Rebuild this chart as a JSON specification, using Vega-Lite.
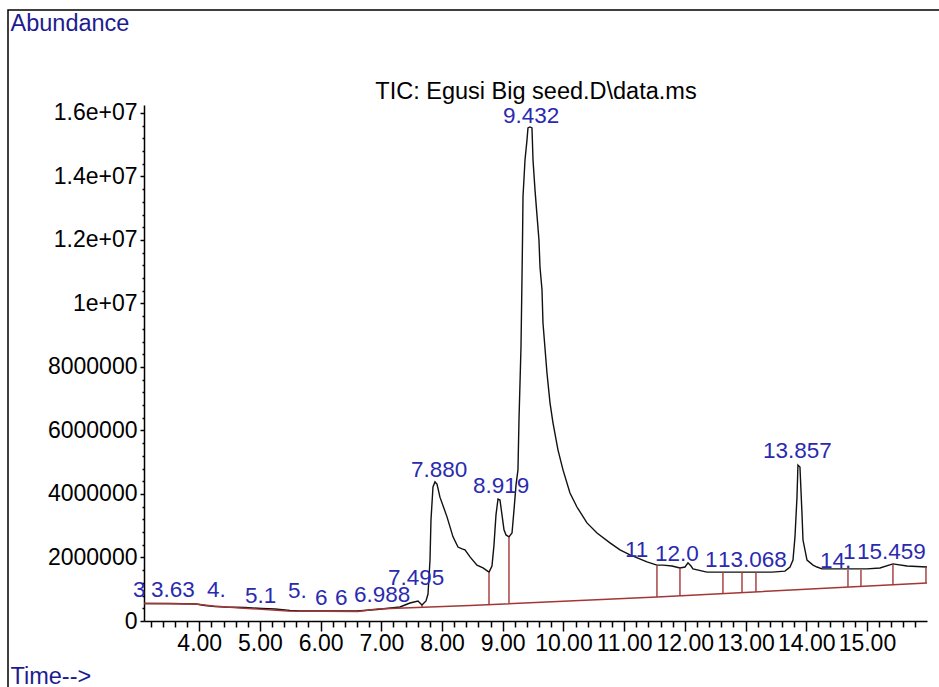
{
  "$schema": "https://vega.github.io/schema/vega-lite/v6.json",
  "autosize": "none",
  "padding": {"left": 8, "top": 10, "right": 0, "bottom": 0},
  "width": 940,
  "height": 700,
  "background": "white",
  "config": {
    "view": {"stroke": "#000000", "strokeWidth": 1.5},
    "font": "Liberation Sans"
  },
  "title": {
    "text": "TIC: Egusi Big seed.D\\data.ms",
    "frame": "group",
    "anchor": "middle",
    "dx": 58,
    "offset": -112,
    "baseline": "alphabetic",
    "font": "Liberation Sans",
    "fontSize": 23.5,
    "fontWeight": "normal",
    "color": "#000000"
  },
  "datasets": {
    "signal": [
      {"t":3.09,"v":551000},{"t":3.518,"v":551000},{"t":3.947,"v":535000},{"t":4.095,"v":488000},{"t":4.26,"v":457000},{"t":4.424,"v":441000},{"t":4.754,"v":425000},{"t":5.034,"v":394000},{"t":5.248,"v":378000},{"t":5.495,"v":331000},{"t":5.66,"v":315000},{"t":6.319,"v":315000},{"t":6.599,"v":315000},{"t":6.928,"v":362000},{"t":7.307,"v":441000},{"t":7.472,"v":567000},{"t":7.604,"v":630000},{"t":7.67,"v":504000},{"t":7.736,"v":630000},{"t":7.769,"v":850000},{"t":7.802,"v":1920000},{"t":7.818,"v":3180000},{"t":7.851,"v":4220000},{"t":7.884,"v":4380000},{"t":7.917,"v":4310000},{"t":7.966,"v":3900000},{"t":8.082,"v":3280000},{"t":8.181,"v":2650000},{"t":8.263,"v":2330000},{"t":8.329,"v":2270000},{"t":8.378,"v":2240000},{"t":8.461,"v":2020000},{"t":8.576,"v":1760000},{"t":8.675,"v":1670000},{"t":8.774,"v":1540000},{"t":8.823,"v":1730000},{"t":8.856,"v":2390000},{"t":8.889,"v":3340000},{"t":8.922,"v":3840000},{"t":8.955,"v":3810000},{"t":8.988,"v":3340000},{"t":9.021,"v":2870000},{"t":9.054,"v":2710000},{"t":9.103,"v":2650000},{"t":9.153,"v":2770000},{"t":9.186,"v":3500000},{"t":9.219,"v":4280000},{"t":9.251,"v":4760000},{"t":9.268,"v":6330000},{"t":9.301,"v":8630000},{"t":9.317,"v":10740000},{"t":9.326,"v":12000000},{"t":9.334,"v":13350000},{"t":9.367,"v":14520000},{"t":9.4,"v":15150000},{"t":9.416,"v":15530000},{"t":9.449,"v":15560000},{"t":9.482,"v":15530000},{"t":9.499,"v":14520000},{"t":9.532,"v":13570000},{"t":9.564,"v":12790000},{"t":9.597,"v":12000000},{"t":9.614,"v":11150000},{"t":9.647,"v":10430000},{"t":9.663,"v":9390000},{"t":9.729,"v":7810000},{"t":9.779,"v":6870000},{"t":9.828,"v":6240000},{"t":9.91,"v":5390000},{"t":9.993,"v":4760000},{"t":10.108,"v":4030000},{"t":10.223,"v":3590000},{"t":10.388,"v":3090000},{"t":10.553,"v":2770000},{"t":10.767,"v":2460000},{"t":10.932,"v":2240000},{"t":11.097,"v":2080000},{"t":11.376,"v":1860000},{"t":11.541,"v":1760000},{"t":11.64,"v":1760000},{"t":11.788,"v":1730000},{"t":11.92,"v":1670000},{"t":12.003,"v":1700000},{"t":12.052,"v":1830000},{"t":12.102,"v":1730000},{"t":12.134,"v":1640000},{"t":12.365,"v":1540000},{"t":13.436,"v":1540000},{"t":13.65,"v":1570000},{"t":13.733,"v":1700000},{"t":13.782,"v":1920000},{"t":13.815,"v":2650000},{"t":13.848,"v":3900000},{"t":13.864,"v":4910000},{"t":13.897,"v":4850000},{"t":13.93,"v":3400000},{"t":13.947,"v":2550000},{"t":14.013,"v":1920000},{"t":14.112,"v":1760000},{"t":14.178,"v":1700000},{"t":14.26,"v":1640000},{"t":15.0,"v":1640000},{"t":15.215,"v":1670000},{"t":15.429,"v":1800000},{"t":15.66,"v":1730000},{"t":15.99,"v":1700000}
    ],
    "baseline": [
      {"t":3.09,"v":551000},{"t":3.947,"v":535000},{"t":4.227,"v":472000},{"t":4.672,"v":409000},{"t":5.462,"v":315000},{"t":6.615,"v":299000},{"t":6.928,"v":378000},{"t":8.461,"v":488000},{"t":11.541,"v":756000},{"t":15.99,"v":1197000}
    ],
    "drops": [
      {"t":7.67,"v":430000,"v2":504000},{"t":8.774,"v":515000,"v2":1543000},{"t":9.103,"v":544000,"v2":2646000},{"t":11.541,"v":756000,"v2":1764000},{"t":11.92,"v":793000,"v2":1669000},{"t":12.628,"v":864000,"v2":1543000},{"t":12.942,"v":895000,"v2":1543000},{"t":13.172,"v":917000,"v2":1543000},{"t":14.688,"v":1067000,"v2":1606000},{"t":14.902,"v":1088000,"v2":1606000},{"t":15.429,"v":1140000,"v2":1795000},{"t":15.973,"v":1195000,"v2":1701000}
    ],
    "labels": [
      {"label":"3","t":2.909,"v":756000},
      {"label":"3.63","t":3.205,"v":756000},
      {"label":"4.","t":4.128,"v":756000},
      {"label":"5.1","t":4.754,"v":567000},
      {"label":"5.","t":5.462,"v":724000},
      {"label":"6","t":5.907,"v":504000},
      {"label":"6","t":6.237,"v":504000},
      {"label":"6.988","t":6.55,"v":600000},
      {"label":"7.495","t":7.11,"v":1134000},
      {"label":"7.880","t":7.489,"v":4535000},
      {"label":"8.919","t":8.51,"v":4030000},
      {"label":"9.432","t":9.004,"v":15685000},
      {"label":"11","t":11.014,"v":2016000},
      {"label":"12.0","t":11.508,"v":1890000},
      {"label":"1","t":12.332,"v":1700000},
      {"label":"13.068","t":12.546,"v":1700000},
      {"label":"13.857","t":13.288,"v":5130000},
      {"label":"14.","t":14.227,"v":1670000},
      {"label":"1","t":14.606,"v":1950000},
      {"label":"15.459","t":14.836,"v":1950000}
    ]
  },
  "encoding": {
    "x": {
      "field": "t",
      "type": "quantitative",
      "scale": {"domain": [3.09, 15.99], "range": [136, 919], "nice": false, "zero": false},
      "axis": {
        "orient": "bottom",
        "offset": -89,
        "grid": false,
        "values": [3.2,3.4,3.6,3.8,4,4.2,4.4,4.6,4.8,5,5.2,5.4,5.6,5.8,6,6.2,6.4,6.6,6.8,7,7.2,7.4,7.6,7.8,8,8.2,8.4,8.6,8.8,9,9.2,9.4,9.6,9.8,10,10.2,10.4,10.6,10.8,11,11.2,11.4,11.6,11.8,12,12.2,12.4,12.6,12.8,13,13.2,13.4,13.6,13.8,14,14.2,14.4,14.6,14.8,15,15.2,15.4,15.6,15.8],
        "labelExpr": "datum.value % 1 === 0 ? format(datum.value, '.2f') : ''",
        "tickSize": {"condition": {"test": "datum.value % 1 === 0", "value": 10}, "value": 6},
        "tickColor": "#000000",
        "tickWidth": 1.5,
        "domainColor": "#000000",
        "domainWidth": 1.5,
        "labelColor": "#000000",
        "labelFont": "Liberation Sans",
        "labelFontSize": 23,
        "labelPadding": 1,
        "labelOverlap": false,
        "labelFlush": false,
        "title": "Time-->",
        "titleX": 2,
        "titleY": 62,
        "titleAlign": "left",
        "titleBaseline": "alphabetic",
        "titleColor": "#1c1c90",
        "titleFont": "Liberation Sans",
        "titleFontSize": 23.5,
        "titleFontWeight": "normal"
      }
    },
    "y": {
      "field": "v",
      "type": "quantitative",
      "scale": {"domain": [0, 16250000], "range": [611, 95], "nice": false, "zero": true},
      "axis": {
        "orient": "left",
        "offset": -136,
        "grid": false,
        "values": [0,400000,800000,1200000,1600000,2000000,2400000,2800000,3200000,3600000,4000000,4400000,4800000,5200000,5600000,6000000,6400000,6800000,7200000,7600000,8000000,8400000,8800000,9200000,9600000,10000000,10400000,10800000,11200000,11600000,12000000,12400000,12800000,13200000,13600000,14000000,14400000,14800000,15200000,15600000,16000000],
        "labelExpr": "datum.value % 2000000 !== 0 ? '' : (datum.value >= 10000000 ? (datum.value / 10000000) + 'e+07' : '' + datum.value)",
        "tickSize": {"condition": {"test": "datum.value % 2000000 === 0", "value": 4}, "value": 2},
        "tickColor": "#000000",
        "tickWidth": 1.5,
        "domainColor": "#000000",
        "domainWidth": 1.5,
        "labelColor": "#000000",
        "labelFont": "Liberation Sans",
        "labelFontSize": 23,
        "labelPadding": 3,
        "labelOverlap": false,
        "labelFlush": false,
        "title": "Abundance",
        "titleAngle": 0,
        "titleX": -134,
        "titleY": 20,
        "titleAlign": "left",
        "titleBaseline": "alphabetic",
        "titleColor": "#1c1c90",
        "titleFont": "Liberation Sans",
        "titleFontSize": 23.5,
        "titleFontWeight": "normal"
      }
    }
  },
  "layer": [
    {
      "data": {"name": "signal"},
      "mark": {"type": "line", "color": "#111111", "strokeWidth": 1.4, "interpolate": "linear"}
    },
    {
      "data": {"name": "baseline"},
      "mark": {"type": "line", "color": "#a33636", "strokeWidth": 1.4}
    },
    {
      "data": {"name": "drops"},
      "mark": {"type": "rule", "color": "#a33636", "strokeWidth": 1.4},
      "encoding": {"y2": {"field": "v2"}}
    },
    {
      "data": {"name": "labels"},
      "mark": {"type": "text", "align": "left", "baseline": "alphabetic", "font": "Liberation Sans", "fontSize": 22.5, "color": "#2a2ab0"},
      "encoding": {"text": {"field": "label"}}
    }
  ]
}
